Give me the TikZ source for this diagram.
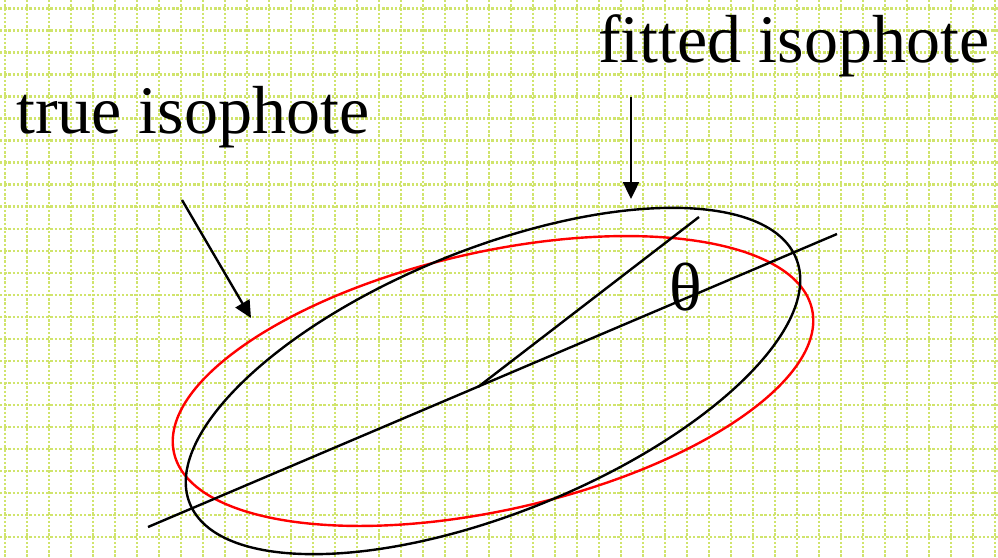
\documentclass[tikz,border=0pt]{standalone}
\usepackage{fontspec}
\setmainfont{Liberation Serif}
\usepackage{tikz}
\usetikzlibrary{arrows.meta}
\definecolor{gridgreen}{RGB}{208,228,108}

\begin{document}
\begin{tikzpicture}[x=1pt,y=-1pt,line width=2.4pt,
  gridline/.style={gridgreen,line width=2.4pt,dash pattern=on 2.4pt off 1.8pt},
  lbl/.style={inner sep=0pt,anchor=base west,font=\fontsize{68}{80}\selectfont},
  tip/.style={-{Triangle[length=17pt,width=16pt]}}]
\useasboundingbox (0,0) rectangle (998,557);
% dotted background grid
\foreach \i in {0,...,45} \draw[gridline] ({5+22*\i},0) -- ({5+22*\i},557);
\foreach \j in {0,...,25} \draw[gridline] (0,{8.3+22.04*\j}) -- (998,{8.3+22.04*\j});
\coordinate (O) at (493,381);
\coordinate (L) at (148,527); \coordinate (R) at (837,234);
\coordinate (M) at (478,387); \coordinate (T) at (699,217);
\coordinate (F1) at (631,97); \coordinate (F2) at (631,199);
\coordinate (T1) at (182,200); \coordinate (T2) at (251,318);
% the two isophotes
\draw[red] (O) ellipse [x radius=327, y radius=129, rotate=12.7];
\draw (O) ellipse [x radius=327, y radius=132, rotate=22];
\draw (L)--(R); \draw (M)--(T);
\node[lbl] (true) at (15,133) {true isophote};
\node[lbl] (fit) at (597,62) {fitted isophote};
\node[lbl] (th) at (668,310) {θ};
\draw[tip] (F1)--(F2); \draw[tip] (T1)--(T2);
\end{tikzpicture}
\end{document}
